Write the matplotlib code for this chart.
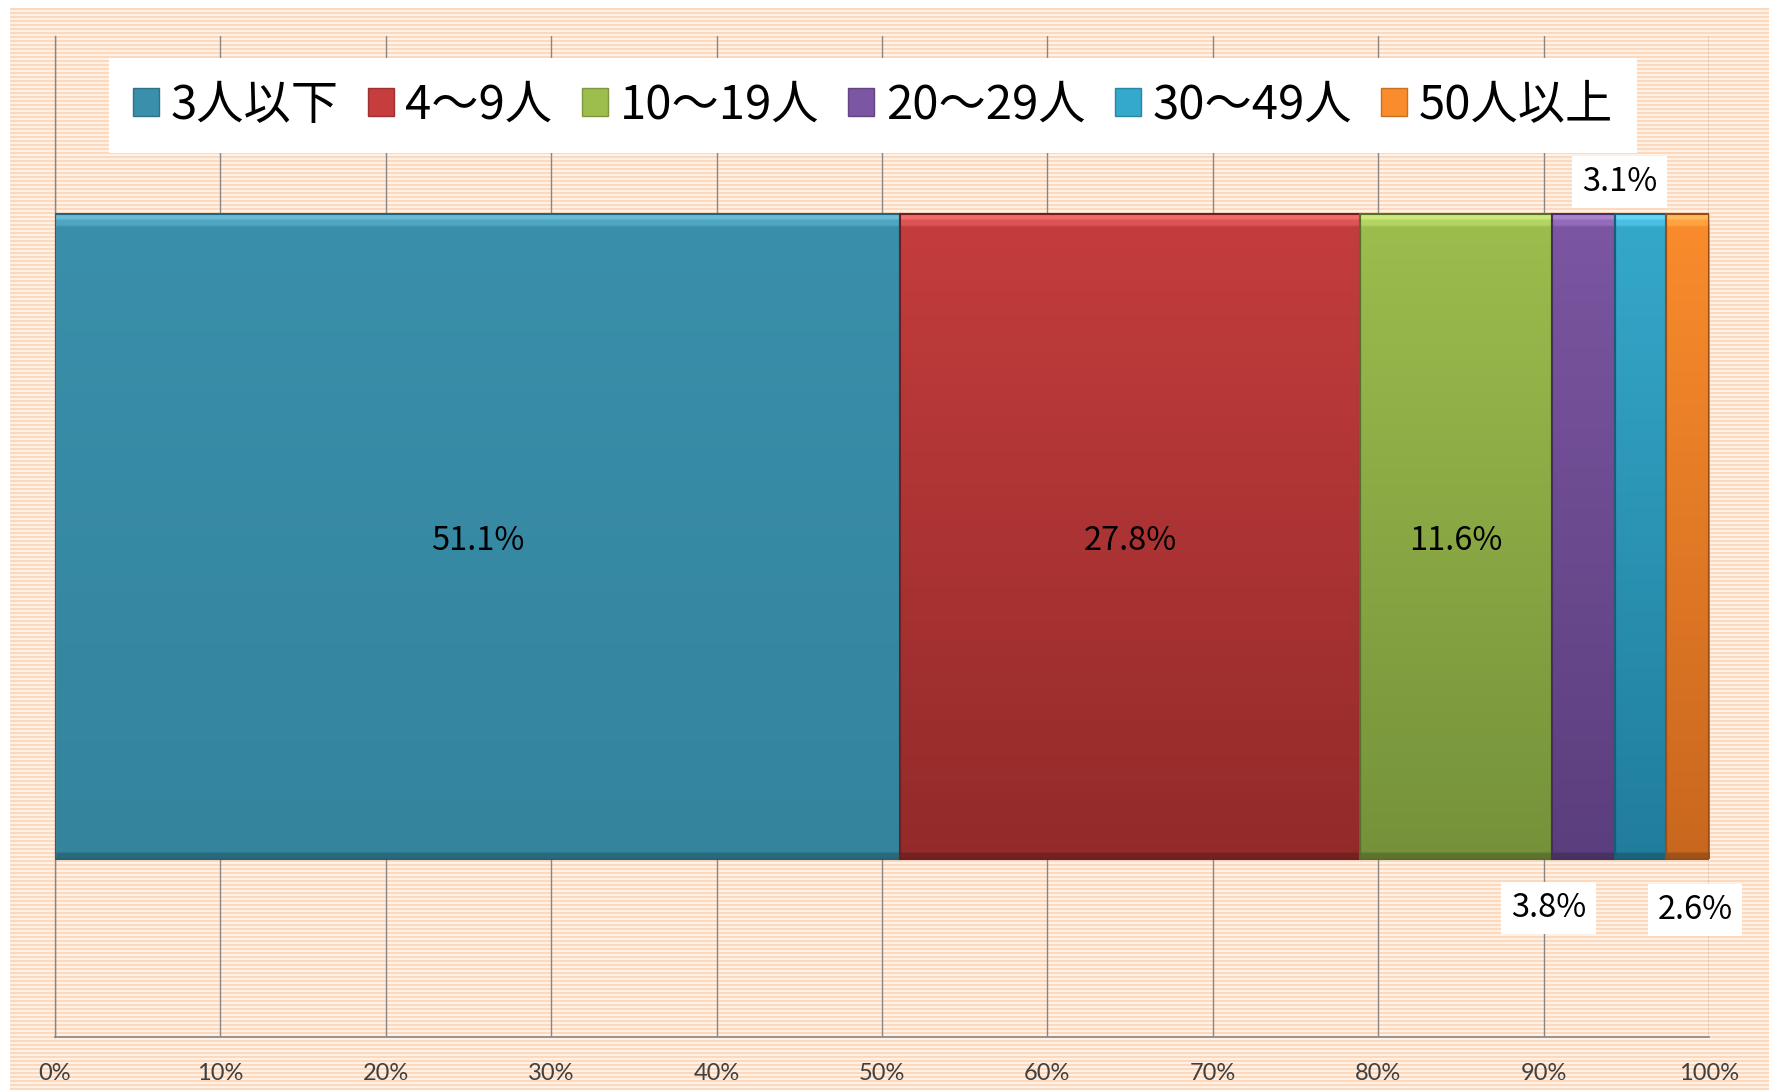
import numpy as np
import matplotlib
matplotlib.use("Agg")
import matplotlib.pyplot as plt
from matplotlib.patches import Patch
from matplotlib.colors import to_rgb

plt.rcParams['font.family'] = ['Noto Sans CJK JP', 'DejaVu Sans']

# ---- data ----
categories = ['3人以下', '4～9人', '10～19人', '20～29人', '30～49人', '50人以上']
values = [51.1, 27.8, 11.6, 3.8, 3.1, 2.6]
tick_values = [0, 10, 20, 30, 40, 50, 60, 70, 80, 90, 100]
tick_labels = [f'{v}%' for v in tick_values]

# colours: (top, bottom) of the gradient
top_colors = ['#3A8FAA', '#C53D3D', '#9DBD4D', '#7C56A2', '#35A9CB', '#FA8C2C']
bot_colors = ['#34849E', '#932A2A', '#75923A', '#5B3E7D', '#217D9C', '#C9671F']

W, H = 1769, 1090
fig = plt.figure(figsize=(W / 100, H / 100), dpi=100)
fig.patch.set_facecolor('white')

# striped peach background
bh, bw = H - 8, W - 10
stripes = np.ones((bh, bw, 3))
c1 = np.array(to_rgb('#FCD8BC'))
c2 = np.array(to_rgb('#FFF1E6'))
rows = np.arange(bh) % 4
stripes[rows < 2] = c1
stripes[rows >= 2] = c2
fig.figimage(stripes, xo=10, yo=0, zorder=0)

ax = fig.add_axes([55 / W, 1 - 1037 / H, (1709 - 55) / W, (1037 - 36) / H], zorder=1)
ax.patch.set_alpha(0)

bar_h = 0.645
lefts = np.concatenate([[0], np.cumsum(values)[:-1]])
bars = ax.barh([0] * len(values), values, left=lefts, height=bar_h,
               color='none', edgecolor='none', zorder=3)

def grad_img(top, bot, n=300):
    t = np.linspace(0, 1, n)[:, None]
    a = np.array(to_rgb(top)); b = np.array(to_rgb(bot))
    img = (1 - t) * a + t * b
    hl = max(1, int(n * 0.012))
    img[:hl] = np.clip(a + 0.18, 0, 1)
    img[hl:2 * hl] = np.clip(a + 0.09, 0, 1)
    img[-hl:] = b * 0.8
    return img[:, None, :].repeat(2, axis=1)

for p, tc, bc in zip(bars.patches, top_colors, bot_colors):
    x0, y0 = p.get_x(), p.get_y()
    w, h = p.get_width(), p.get_height()
    im = ax.imshow(grad_img(tc, bc), extent=[x0, x0 + w, y0, y0 + h],
                   aspect='auto', origin='upper', zorder=2, interpolation='bilinear')
    im.set_clip_path(p)
    ax.add_patch(plt.Rectangle((x0, y0), w, h, fill=False,
                               edgecolor=tuple(np.array(to_rgb(bc)) * 0.75),
                               linewidth=1.5, zorder=4))

ax.set_xlim(0, 100)
ax.set_ylim(-0.5, 0.5)
ax.set_yticks([])
ax.set_xticks(tick_values)
ax.set_xticklabels(tick_labels, fontsize=17, color='#404040', family=['Lato', 'DejaVu Sans'])
ax.tick_params(axis='x', length=0, pad=19)
ax.grid(axis='x', color='#878787', linewidth=1.0, zorder=1)
ax.set_axisbelow(True)
ax.spines['top'].set_visible(False)
ax.spines['right'].set_visible(False)
ax.spines['left'].set_color('#878787')
ax.spines['bottom'].set_color('#878787')
ax.spines['left'].set_linewidth(1.0)
ax.spines['bottom'].set_linewidth(1.2)

# data labels
centers = lefts + np.array(values) / 2
for i, (c, v) in enumerate(zip(centers, values)):
    if i < 3:
        ax.text(c, -0.004, f'{v}%', ha='center', va='center', fontsize=23.5, color='black', zorder=6)

label_offsets = {3: (-2.1, -0.371), 4: (-1.25, 0.354), 5: (0.45, -0.373)}
for i, (dx, y) in label_offsets.items():
    ax.text(centers[i] + dx, y, f'{values[i]}%', ha='center', va='center', fontsize=23.5,
            color='black', zorder=6,
            bbox=dict(boxstyle='square,pad=0.3', facecolor='white', edgecolor='none'))

handles = [Patch(facecolor=bc, edgecolor=tuple(np.array(to_rgb(bc)) * 0.8)) for bc in top_colors]
leg = fig.legend(handles, categories, loc='center', bbox_to_anchor=(873 / W, 1 - 105.5 / H),
                 ncol=6, fontsize=34, frameon=True, fancybox=False, handlelength=0.55,
                 handleheight=0.55, handletextpad=0.25, columnspacing=0.62, borderpad=0.5)
leg.get_frame().set_facecolor('white')
leg.get_frame().set_edgecolor('none')
leg.get_frame().set_alpha(1)
leg.set_zorder(5)

fig.savefig('out.png', dpi=100)
